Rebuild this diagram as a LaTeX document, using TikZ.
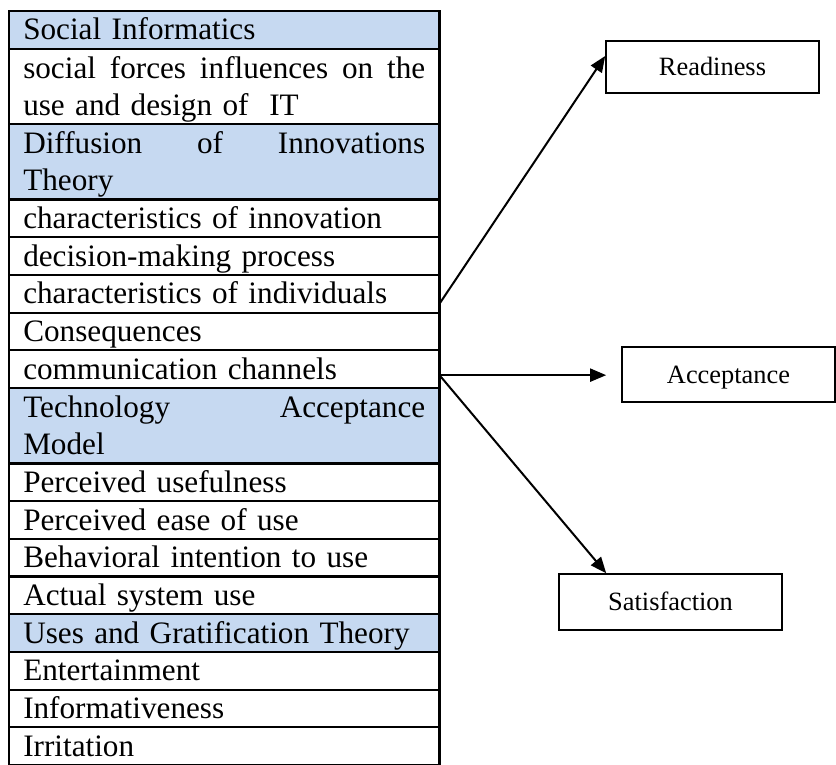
\documentclass[tikz,border=0pt]{standalone}
\usepackage{fontspec}
\setmainfont{Liberation Serif}
\usetikzlibrary{positioning,arrows.meta}
\definecolor{headblue}{RGB}{198,217,241}
\tikzset{
    cell/.style={draw=black, line width=1.1pt, outer sep=0pt, inner xsep=7pt, inner ysep=0pt,
        minimum width=215.25pt, minimum height=18.85pt, text width=201pt, align=left,
        text height=12.5pt, text depth=2.35pt, font=\fontsize{15.6}{18.5}\selectfont},
    twoline/.style={minimum height=37.7pt, text depth=20.85pt},
    head/.style={cell, fill=headblue},
    outcome/.style={draw=black, line width=0.8pt, inner sep=0pt, text height=8.6pt, text depth=0pt,
        font=\fontsize{13.2}{15}\selectfont},
    link/.style={line width=1pt, -{Triangle[length=8pt,width=6.5pt]}}
}
\begin{document}
\begin{tikzpicture}[x=0.5pt, y=-0.5pt]
            \useasboundingbox (0,0) rectangle (836,765);
            \node[head, anchor=north west] (r1) at (9,11) {Social Informatics};
            \node[cell, twoline, below=0pt of r1] (r2) {social\hfill forces\hfill influences\hfill on\hfill the\\use and design of~ IT};
            \node[head, twoline, below=0pt of r2] (r3) {Diffusion\hfill of\hfill Innovations\\Theory};
            \node[cell, below=0pt of r3] (r4) {characteristics of innovation};
            \node[cell, below=0pt of r4] (r5) {decision-making process};
            \node[cell, below=0pt of r5] (r6) {characteristics of individuals};
            \node[cell, below=0pt of r6] (r7) {Consequences};
            \node[cell, below=0pt of r7] (r8) {communication channels};
            \node[head, twoline, below=0pt of r8] (r9) {Technology\hfill Acceptance\\Model};
            \node[cell, below=0pt of r9] (r10) {Perceived usefulness};
            \node[cell, below=0pt of r10] (r11) {Perceived ease of use};
            \node[cell, below=0pt of r11] (r12) {Behavioral intention to use};
            \node[cell, below=0pt of r12] (r13) {Actual system use};
            \node[head, below=0pt of r13] (r14) {Uses and Gratification Theory};
            \node[cell, below=0pt of r14] (r15) {Entertainment};
            \node[cell, below=0pt of r15] (r16) {Informativeness};
            \node[cell, below=0pt of r16] (r17) {Irritation};
            \node[outcome, minimum width=106.5pt, minimum height=26pt] (ready) at (712.5,67) {Readiness};
            \node[outcome, minimum width=106.5pt, minimum height=27.5pt] (accept) at (728.5,374.5) {Acceptance};
            \node[outcome, minimum width=111.5pt, minimum height=28pt] (satis) at (670.5,602) {Satisfaction};
            \coordinate (indiv) at ([yshift=-5pt]r6.east);
            \coordinate (chan) at ([yshift=-3pt]r8.east);
            \draw[link] (indiv) -- ([yshift=5.5pt]ready.west);
            \draw[link, shorten >=7.5pt] (chan) -- (chan -| accept.west);
            \draw[link] (chan) -- ([xshift=24pt]satis.north west);
        \end{tikzpicture}
\end{document}
